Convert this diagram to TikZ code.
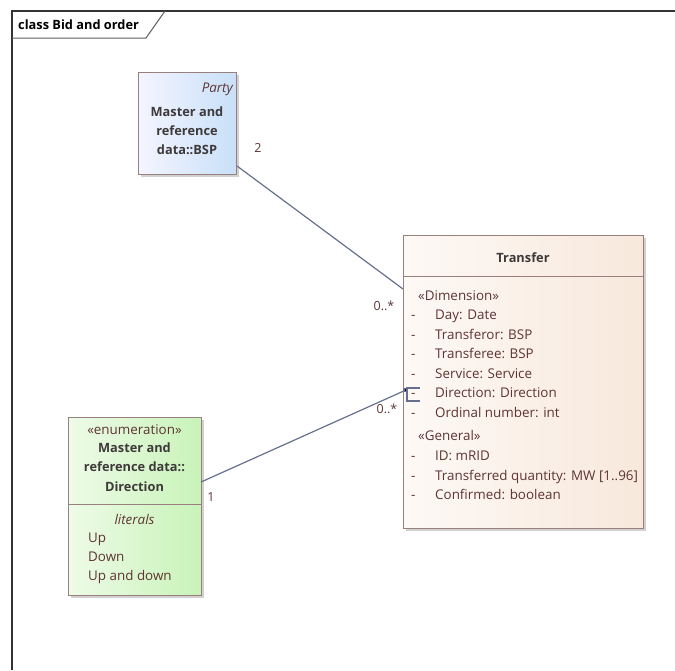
\documentclass[tikz,border=0pt]{standalone}
\usepackage{fontspec}
\setmainfont{Open Sans}
\usetikzlibrary{shadows}
\definecolor{bord}{HTML}{9A7F7F}
\definecolor{txt}{HTML}{5E3434}
\definecolor{btxt}{HTML}{3E3A3A}
\definecolor{conn}{HTML}{66708E}
\definecolor{frm}{HTML}{333333}
\begin{document}
\begin{tikzpicture}[x=1pt,y=-1pt,
  box/.style={draw=bord, line width=0.9pt, drop shadow={shadow xshift=2.5pt, shadow yshift=-2.5pt, fill=black!30, opacity=0.6}},
  tx/.style={inner sep=0pt, text=txt, font=\fontsize{13.4}{15}\selectfont, anchor=base},
  bx/.style={tx, text=btxt, font=\fontsize{12.8}{15}\selectfont\bfseries},
  conn/.style={draw=conn, line width=1.2pt},
  lbl/.style={inner sep=0pt, text=txt, font=\fontsize{12.5}{14}\selectfont, anchor=base}]
\useasboundingbox (0,0) rectangle (675,670);
% frame
\draw[frm, line width=1.2pt] (675,11) -- (12,11) -- (12,670);
\draw[frm!80, line width=1pt] (12,38) -- (146,38) -- (165,11);
\node[anchor=base west, inner sep=0pt, font=\fontsize{12.8}{14}\selectfont\bfseries, text=black] (title) at (18,29) {class Bid and order};
% Party box
\node[box, left color=blue!4!white, right color={rgb,255:red,200;green,224;blue,248}, minimum width=98pt, minimum height=102pt, anchor=north west, inner sep=0pt] (party) at (138,72) {};
\node[tx, anchor=base east, font=\fontsize{13.4}{15}\selectfont\itshape] (partyst) at (233,92.5) {Party};
\node[bx] (p1) at (187,116.5) {Master and};
\node[bx] (p2) at (187,135.5) {reference};
\node[bx] (p3) at (187,154.5) {data::BSP};
% Transfer box
\node[box, left color={rgb,255:red,253;green,249;blue,245}, right color={rgb,255:red,248;green,232;blue,220}, minimum width=240pt, minimum height=293pt, anchor=north west, inner sep=0pt] (transfer) at (403,235) {};
\draw[draw=bord, line width=0.9pt] (403,276) -- (643,276);
\node[bx] (tname) at (523,262.5) {Transfer};
\node[tx, anchor=base west] (dim) at (418,300.5) {«Dimension»};
\foreach \y/\t [count=\i] in {315/{Day: Date},334.5/{Transferor: BSP},354/{Transferee: BSP},373.5/{Service: Service},393/{Direction: Direction},412.5/{Ordinal number: int},456/{ID: mRID},475.5/{Transferred quantity: MW [1..96]},495/{Confirmed: boolean}}{
  \node[tx, anchor=base west] (d\i) at (411,\y+4.5) {-};
  \node[tx, anchor=base west] (a\i) at (435,\y+4.5) {\t};
}
\node[tx, anchor=base west] (gen) at (418,440.5) {«General»};
% Direction box
\node[box, left color={rgb,255:red,238;green,251;blue,232}, right color={rgb,255:red,200;green,243;blue,184}, minimum width=133pt, minimum height=178pt, anchor=north west, inner sep=0pt] (dirbox) at (68,417) {};
\draw[draw=bord, line width=0.9pt] (68,504) -- (201,504);
\node[tx] (e0) at (134.5,434.5) {«enumeration»};
\node[bx] (e1) at (134.5,452.5) {Master and};
\node[bx] (e2) at (134.5,471.5) {reference data::};
\node[bx] (e3) at (134.5,491.5) {Direction};
\node[tx, font=\fontsize{13.4}{15}\selectfont\itshape] (lit) at (134.5,524.5) {literals};
\node[tx, anchor=base west] (l1) at (88,542) {Up};
\node[tx, anchor=base west] (l2) at (88,561) {Down};
\node[tx, anchor=base west] (l3) at (88,580.5) {Up and down};
% connectors
\coordinate (pA) at (237,166);
\coordinate (tA) at (403,289);
\coordinate (dA) at (201,482);
\coordinate (tB) at (406,390);
\draw[conn] (pA) -- (tA);
\draw[conn] (dA) -- (tB);
\draw[conn] (420,388) -- (407,388) -- (407,401) -- (420,401);
\fill[conn] (404,388.5) rectangle (407,391.5);
\node[lbl] (m1) at (258,152.5) {2};
\node[lbl] (m2) at (384,310.5) {0..*};
\node[lbl] (m3) at (387,413.5) {0..*};
\node[lbl] (m4) at (211,501.5) {1};
\end{tikzpicture}
\end{document}
